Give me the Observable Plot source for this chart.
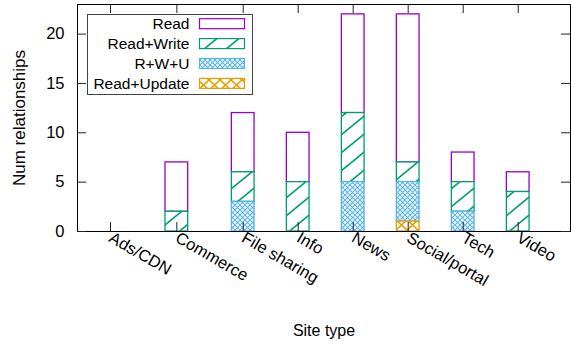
<!DOCTYPE html>
<html><head><meta charset="utf-8">
<script src="https://cdn.jsdelivr.net/npm/d3@7"></script>
<script src="https://cdn.jsdelivr.net/npm/@observablehq/plot@0.6"></script>
<style>body{margin:0;background:#fff} svg{display:block}</style>
</head><body><div id="chart"></div>
<script>
// ---- data ----
const sites = ["Ads/CDN", "Commerce", "File sharing", "Info", "News", "Social/portal", "Tech", "Video"];
const seriesBottomToTop = ["Read+Update", "R+W+U", "Read+Write", "Read"];
const readUpdate      = [0, 0, 0, 0, 0, 1, 0, 0];
const readWriteUpdate = [0, 0, 3, 0, 5, 4, 2, 0];
const readWrite       = [0, 2, 3, 5, 7, 2, 3, 4];
const readOnly        = [0, 5, 6, 5, 10, 15, 3, 2];
const yTicks = [0, 5, 10, 15, 20];
const legendOrder = ["Read", "Read+Write", "R+W+U", "Read+Update"];

// ---- layout / style ----
const W = 571, H = 345, mL = 77, mR = 1, mT = 4, mB = 114;
const plotW = W - mL - mR, plotH = H - mT - mB;
const FONT = "'Liberation Sans', Arial, Helvetica, sans-serif";
const colors = {"Read": "#9400d3", "Read+Write": "#009e73", "R+W+U": "#56b4e9", "Read+Update": "#e69f00"};
const fills = {"Read": "white", "Read+Write": "url(#pat-rw)", "R+W+U": "url(#pat-rwu)", "Read+Update": "url(#pat-ru)"};

const valuesBySeries = {"Read+Update": readUpdate, "R+W+U": readWriteUpdate, "Read+Write": readWrite, "Read": readOnly};
const rows = [];
sites.forEach((site, i) => {
  let acc = 0;
  for (const s of seriesBottomToTop) {
    const v = valuesBySeries[s][i];
    if (v > 0) rows.push({site, i, series: s, y1: acc, y2: acc + v});
    acc += v;
  }
});

function defsMark() {
  const defs = d3.create("svg:defs");
  const p1 = defs.append("pattern").attr("id", "pat-rw").attr("patternUnits", "userSpaceOnUse")
    .attr("width", 22).attr("height", 18);
  p1.append("rect").attr("width", 22).attr("height", 18).attr("fill", "white");
  p1.append("path").attr("d", "M-22,36L44,-18M-22,18L22,-18M0,36L44,0")
    .attr("stroke", colors["Read+Write"]).attr("stroke-width", 1.7).attr("fill", "none");
  const p2 = defs.append("pattern").attr("id", "pat-rwu").attr("patternUnits", "userSpaceOnUse")
    .attr("width", 5).attr("height", 5);
  p2.append("rect").attr("width", 5).attr("height", 5).attr("fill", "white");
  p2.append("path").attr("d", "M-1,-1L6,6M6,-1L-1,6")
    .attr("stroke", colors["R+W+U"]).attr("stroke-width", 1.1).attr("fill", "none");
  const p3 = defs.append("pattern").attr("id", "pat-ru").attr("patternUnits", "userSpaceOnUse")
    .attr("width", 11).attr("height", 10);
  p3.append("rect").attr("width", 11).attr("height", 10).attr("fill", "white");
  p3.append("path").attr("d", "M0,0L11,10M11,0L0,10")
    .attr("stroke", colors["Read+Update"]).attr("stroke-width", 1.6).attr("fill", "none");
  return defs.node();
}

const barHalf = 11.35;
const svg = Plot.plot({
  width: W, height: H,
  marginLeft: mL, marginRight: mR, marginTop: mT, marginBottom: mB,
  style: {fontFamily: FONT, fontSize: "16.5px", color: "#000", background: "#fff"},
  x: {type: "linear", domain: [0, 2, 7], range: [110, 242.7, 517.7]},
  y: {domain: [0, 23]},
  marks: [
    defsMark,
    ...legendOrder.map(s => Plot.rect(rows.filter(r => r.series === s), {
      x1: "i", x2: "i", y1: "y1", y2: "y2",
      fill: fills[s], stroke: colors[s], strokeWidth: 1.3,
      insetLeft: -barHalf, insetRight: -barHalf
    })),
    Plot.frame({stroke: "#000"}),
    Plot.tickX(d3.range(sites.length), {x: d => d, insetTop: plotH - 9, stroke: "#222"}),
    Plot.tickX(d3.range(sites.length), {x: d => d, insetBottom: plotH - 9, stroke: "#222"}),
    Plot.tickY(yTicks, {y: d => d, insetRight: plotW - 9, stroke: "#222"}),
    Plot.tickY(yTicks, {y: d => d, insetLeft: plotW - 9, stroke: "#222"}),
    Plot.axisY({ticks: yTicks, tickSize: 0, tickPadding: 13, label: null, fill: "#000"}),
    Plot.axisX({ticks: d3.range(sites.length), tickFormat: i => sites[i], tickRotate: 30,
      tickSize: 0, tickPadding: 5, label: null, fill: "#000"}),
    Plot.text(["Num relationships"], {text: d => d, frameAnchor: "left", textAnchor: "middle",
      rotate: -90, dx: -58, fontSize: 17, fill: "#000"}),
    Plot.text(["Site type"], {text: d => d, frameAnchor: "bottom", textAnchor: "middle",
      dy: 104, fontSize: 16, fill: "#000"})
  ]
});

// legend (drawn inside the plot area, top-left)
const lg = d3.select(svg).append("g").attr("font-family", FONT).attr("font-size", 15.5);
lg.append("rect").attr("x", 87.5).attr("y", 14.5).attr("width", 165).attr("height", 80)
  .attr("fill", "white").attr("stroke", "#444").attr("stroke-width", 1);
legendOrder.forEach((s, k) => {
  const cy = 23.7 + k * 19.9;
  lg.append("text").attr("x", 189.5).attr("y", cy).attr("dy", "0.36em")
    .attr("text-anchor", "end").attr("fill", "#000").text(s);
  lg.append("rect").attr("x", 199.5).attr("y", cy - 5).attr("width", 45).attr("height", 10)
    .attr("fill", fills[s]).attr("stroke", colors[s]).attr("stroke-width", 1.2);
});

document.getElementById("chart").appendChild(svg);
</script>
</body></html>
